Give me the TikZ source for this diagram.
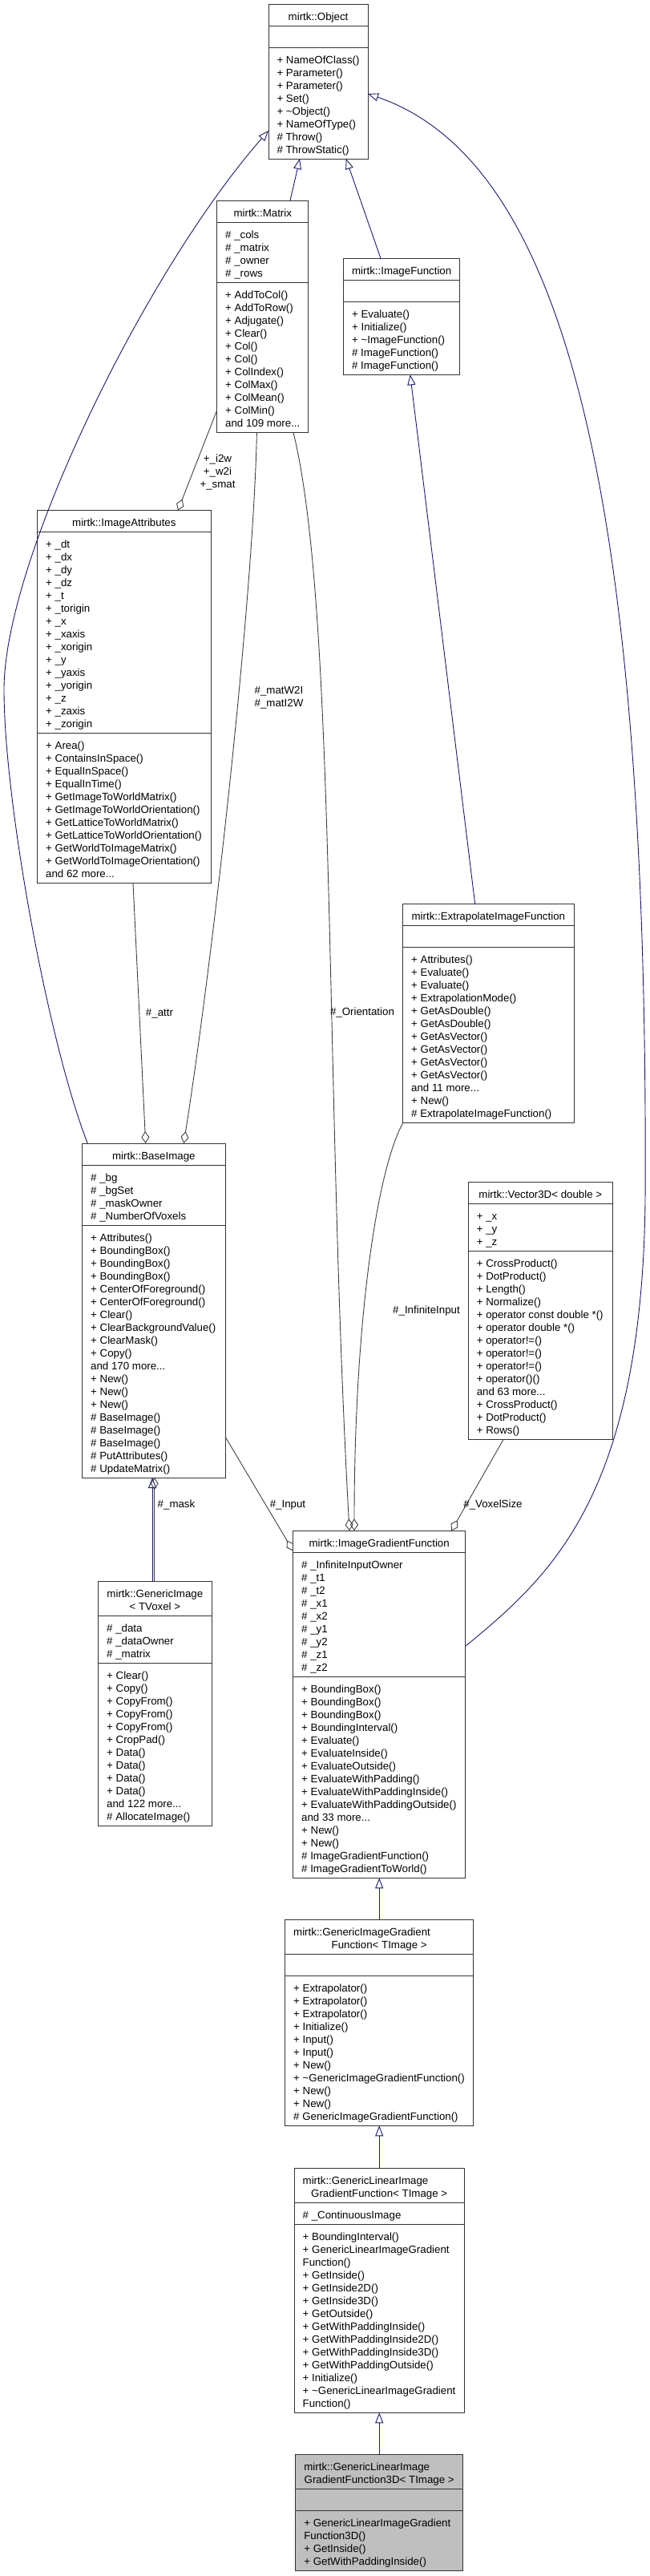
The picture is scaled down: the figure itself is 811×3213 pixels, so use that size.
\documentclass[tikz,border=0pt]{standalone}
\usepackage{fontspec}
\setmainfont{Liberation Sans}
\usetikzlibrary{shapes.multipart,positioning,arrows.meta}

\definecolor{inhblue}{RGB}{25,25,112}
\definecolor{aggrgray}{RGB}{64,64,64}
\definecolor{selgray}{RGB}{191,191,191}

% one text row is 16pt high
\newcommand{\rowstrut}{\rule[-1.5pt]{0pt}{16pt}}
\newcommand{\rows}[1]{\vbox{\baselineskip=16pt\lineskiplimit=-100pt\lineskip=0pt\let\\\cr
  \halign{\rowstrut##\hfil\cr#1\crcr}\kern-\prevdepth\kern1.5pt}}

\begin{document}
\begin{tikzpicture}[x=1pt, y=-1pt,
  classbox/.style={rectangle split, rectangle split parts=3, draw=black!80, line width=1pt,
    fill=white, rectangle split part align={center,left,left},
    inner xsep=10.5pt, inner ysep=5pt, outer sep=0pt,
    font=\fontsize{13.3}{16}\selectfont, anchor=north west},
  inherit/.style={draw=inhblue, line width=0.9pt, -{Triangle[open,length=13pt,width=10pt]}},
  member/.style={draw=aggrgray, line width=0.9pt, -{Diamond[open,length=15pt,width=10pt]}},
  lbl/.style={font=\fontsize{13.3}{16}\selectfont, align=center, inner sep=0pt}]

\useasboundingbox (0,0) rectangle (811,3213);

\node[classbox, minimum width=124pt] (obj) at (335,5)
  {\rows{mirtk::Object}\nodepart{two}\rows{\mbox{}}\nodepart{three}\rows{+ NameOfClass()\\+ Parameter()\\+ Parameter()\\+ Set()\\+ \textasciitilde Object()\\+ NameOfType()\\\# Throw()\\\# ThrowStatic()}};

\node[classbox, minimum width=114pt] (matrix) at (270.7,250.3)
  {\rows{mirtk::Matrix}\nodepart{two}\rows{\# \_cols\\\# \_matrix\\\# \_owner\\\# \_rows}\nodepart{three}\rows{+ AddToCol()\\+ AddToRow()\\+ Adjugate()\\+ Clear()\\+ Col()\\+ Col()\\+ ColIndex()\\+ ColMax()\\+ ColMean()\\+ ColMin()\\and 109 more...}};

\node[classbox, minimum width=144pt] (imgfn) at (428.6,322.3)
  {\rows{mirtk::ImageFunction}\nodepart{two}\rows{\mbox{}}\nodepart{three}\rows{+ Evaluate()\\+ Initialize()\\+ \textasciitilde ImageFunction()\\\# ImageFunction()\\\# ImageFunction()}};

\node[classbox, minimum width=216.3pt] (attrs) at (46.7,636.7)
  {\rows{mirtk::ImageAttributes}\nodepart{two}\rows{+ \_dt\\+ \_dx\\+ \_dy\\+ \_dz\\+ \_t\\+ \_torigin\\+ \_x\\+ \_xaxis\\+ \_xorigin\\+ \_y\\+ \_yaxis\\+ \_yorigin\\+ \_z\\+ \_zaxis\\+ \_zorigin}\nodepart{three}\rows{+ Area()\\+ ContainsInSpace()\\+ EqualInSpace()\\+ EqualInTime()\\+ GetImageToWorldMatrix()\\+ GetImageToWorldOrientation()\\+ GetLatticeToWorldMatrix()\\+ GetLatticeToWorldOrientation()\\+ GetWorldToImageMatrix()\\+ GetWorldToImageOrientation()\\and 62 more...}};

\node[classbox, minimum width=213.3pt] (extrap) at (502.7,1127.7)
  {\rows{mirtk::ExtrapolateImageFunction}\nodepart{two}\rows{\mbox{}}\nodepart{three}\rows{+ Attributes()\\+ Evaluate()\\+ Evaluate()\\+ ExtrapolationMode()\\+ GetAsDouble()\\+ GetAsDouble()\\+ GetAsVector()\\+ GetAsVector()\\+ GetAsVector()\\+ GetAsVector()\\and 11 more...\\+ New()\\\# ExtrapolateImageFunction()}};

\node[classbox, minimum width=178.3pt] (base) at (102.7,1426)
  {\rows{mirtk::BaseImage}\nodepart{two}\rows{\# \_bg\\\# \_bgSet\\\# \_maskOwner\\\# \_NumberOfVoxels}\nodepart{three}\rows{+ Attributes()\\+ BoundingBox()\\+ BoundingBox()\\+ BoundingBox()\\+ CenterOfForeground()\\+ CenterOfForeground()\\+ Clear()\\+ ClearBackgroundValue()\\+ ClearMask()\\+ Copy()\\and 170 more...\\+ New()\\+ New()\\+ New()\\\# BaseImage()\\\# BaseImage()\\\# BaseImage()\\\# PutAttributes()\\\# UpdateMatrix()}};

\node[classbox, minimum width=180pt] (vec) at (584.3,1474)
  {\rows{mirtk::Vector3D< double >}\nodepart{two}\rows{+ \_x\\+ \_y\\+ \_z}\nodepart{three}\rows{+ CrossProduct()\\+ DotProduct()\\+ Length()\\+ Normalize()\\+ operator const double *()\\+ operator double *()\\+ operator!=()\\+ operator!=()\\+ operator!=()\\+ operator()()\\and 63 more...\\+ CrossProduct()\\+ DotProduct()\\+ Rows()}};

\node[classbox, minimum width=215pt] (igf) at (365.7,1909.3)
  {\rows{mirtk::ImageGradientFunction}\nodepart{two}\rows{\# \_InfiniteInputOwner\\\# \_t1\\\# \_t2\\\# \_x1\\\# \_x2\\\# \_y1\\\# \_y2\\\# \_z1\\\# \_z2}\nodepart{three}\rows{+ BoundingBox()\\+ BoundingBox()\\+ BoundingBox()\\+ BoundingInterval()\\+ Evaluate()\\+ EvaluateInside()\\+ EvaluateOutside()\\+ EvaluateWithPadding()\\+ EvaluateWithPaddingInside()\\+ EvaluateWithPaddingOutside()\\and 33 more...\\+ New()\\+ New()\\\# ImageGradientFunction()\\\# ImageGradientToWorld()}};

\node[classbox, minimum width=141.3pt] (gimg) at (122.7,1972.7)
  {\rows{\makebox[120.3pt]{mirtk::GenericImage}\\\makebox[120.3pt]{< TVoxel >}}\nodepart{two}\rows{\# \_data\\\# \_dataOwner\\\# \_matrix}\nodepart{three}\rows{+ Clear()\\+ Copy()\\+ CopyFrom()\\+ CopyFrom()\\+ CopyFrom()\\+ CropPad()\\+ Data()\\+ Data()\\+ Data()\\+ Data()\\and 122 more...\\\# AllocateImage()}};

\node[classbox, minimum width=235pt, below=52pt of igf] (gigf)
  {\rows{\makebox[214pt][l]{mirtk::GenericImageGradient}\\\makebox[214pt]{Function< TImage >}}\nodepart{two}\rows{\mbox{}}\nodepart{three}\rows{+ Extrapolator()\\+ Extrapolator()\\+ Extrapolator()\\+ Initialize()\\+ Input()\\+ Input()\\+ New()\\+ \textasciitilde GenericImageGradientFunction()\\+ New()\\+ New()\\\# GenericImageGradientFunction()}};

\node[classbox, minimum width=212pt, below=53pt of gigf] (gligf)
  {\rows{\makebox[191pt][l]{mirtk::GenericLinearImage}\\\makebox[191pt]{GradientFunction< TImage >}}\nodepart{two}\rows{\# \_ContinuousImage}\nodepart{three}\rows{+ BoundingInterval()\\+ GenericLinearImageGradient\\Function()\\+ GetInside()\\+ GetInside2D()\\+ GetInside3D()\\+ GetOutside()\\+ GetWithPaddingInside()\\+ GetWithPaddingInside2D()\\+ GetWithPaddingInside3D()\\+ GetWithPaddingOutside()\\+ Initialize()\\+ \textasciitilde GenericLinearImageGradient\\Function()}};

\node[classbox, minimum width=208.7pt, fill=selgray, below=52pt of gligf] (gligfthree)
  {\rows{\makebox[187.7pt][l]{mirtk::GenericLinearImage}\\\makebox[187.7pt]{GradientFunction3D< TImage >}}\nodepart{two}\rows{\mbox{}}\nodepart{three}\rows{+ GenericLinearImageGradient\\Function3D()\\+ GetInside()\\+ GetWithPaddingInside()}};

% inheritance
\draw[inherit] ([shift={(91.3,0)}]matrix.north west) -- ([shift={(39,0)}]obj.south west);
\draw[inherit] ([shift={(46.4,0)}]imgfn.north west) -- ([shift={(96.7,0)}]obj.south west);
\draw[inherit] ([shift={(6.6,0)}]base.north west) .. controls (60,1300) and (5,1000) .. (5,860)
  .. controls (5,700) and (180,340) .. ([shift={(0,158)}]obj.north west);
\draw[inherit] ([shift={(0,144)}]igf.north east) .. controls (684,1968) and (800,1870) .. (805,1500)
  .. controls (810,600) and (700,200) .. ([shift={(0,112)}]obj.north east);
\draw[inherit] ([shift={(90,0)}]extrap.north west) -- ([shift={(83.2,0)}]imgfn.south west);
\draw[inherit] ([shift={(67.3,0)}]gimg.north west) -- ([shift={(87.3,0)}]base.south west);
\draw[inherit] (gigf.north) -- (igf.south);
\draw[inherit] (gligf.north) -- (gigf.south);
\draw[inherit] (gligfthree.north) -- (gligf.south);

% members
\draw[member] ([shift={(0,261.4)}]matrix.north west) -- ([shift={(175.3,0)}]attrs.north west);
\draw[member] ([shift={(119.3,0)}]attrs.south west) -- ([shift={(79,0)}]base.north west);
\draw[member] ([shift={(49.7,0)}]matrix.south west) .. controls (316,750) and (265,1200) .. ([shift={(126.6,0)}]base.north west);
\draw[member] ([shift={(95.3,0)}]matrix.south west) .. controls (420,760) and (405,1350) .. ([shift={(70.3,0)}]igf.north west);
\draw[member] (extrap.south west) .. controls (470,1460) and (442,1650) .. ([shift={(76.3,0)}]igf.north west);
\draw[member] ([shift={(44,0)}]vec.south west) -- ([shift={(197.5,0)}]igf.north west);
\draw[member] ([shift={(0,366)}]base.north east) -- ([shift={(0,25)}]igf.north west);
\draw[member] ([shift={(70,0)}]gimg.north west) -- ([shift={(90,0)}]base.south west);

% member names
\node[lbl] (lblsmat) at (271.5,589) {+\_i2w\\+\_w2i\\+\_smat};
\node[lbl] (lblmat) at (348,870) {\#\_matW2I\\\#\_matI2W};
\node[lbl] (lblattr) at (199,1264) {\#\_attr};
\node[lbl] (lblorient) at (452,1263) {\#\_Orientation};
\node[lbl] (lblinf) at (532,1635) {\#\_InfiniteInput};
\node[lbl] (lblvox) at (615,1877) {\#\_VoxelSize};
\node[lbl] (lblinput) at (359,1877) {\#\_Input};
\node[lbl] (lblmask) at (220,1877) {\#\_mask};

\end{tikzpicture}
\end{document}
